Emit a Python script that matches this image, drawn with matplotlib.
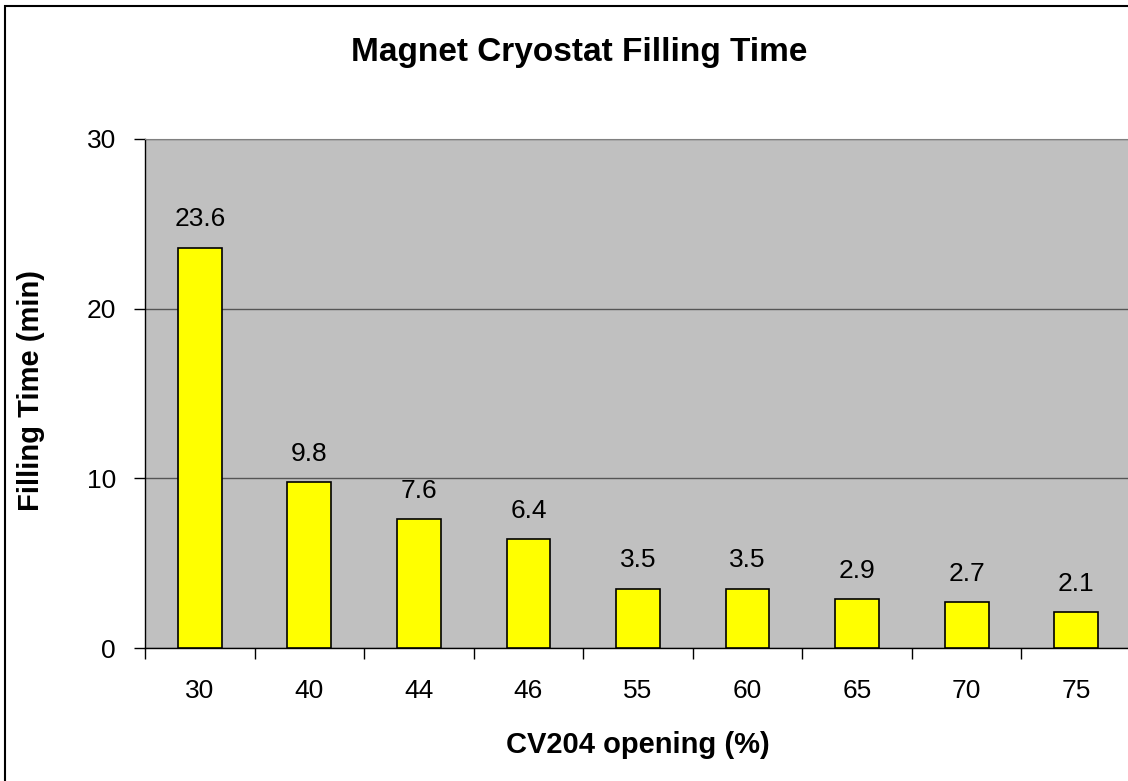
import matplotlib
matplotlib.use("Agg")
import matplotlib.pyplot as plt
from matplotlib.patches import Rectangle

categories = ["30", "40", "44", "46", "55", "60", "65", "70", "75"]
values = [23.6, 9.8, 7.6, 6.4, 3.5, 3.5, 2.9, 2.7, 2.1]
yticks = [0, 10, 20, 30]

plt.rcParams['font.family'] = ['Liberation Sans', 'DejaVu Sans']

W, H = 1128, 781
fig = plt.figure(figsize=(W / 100, H / 100), dpi=100)
fig.patch.set_facecolor('white')
# outer chart border (clipped at right/bottom like the reference)
fig.add_artist(Rectangle((5 / W, -0.1), 1.2, 1 - 6 / H + 0.1, transform=fig.transFigure,
                         fill=False, edgecolor='black', linewidth=1.5))

left, right, top, bottom = 145, 1131, 139, 648
ax = fig.add_axes([left / W, 1 - bottom / H, (right - left) / W, (bottom - top) / H])
ax.set_facecolor('#c0c0c0')

x = list(range(len(categories)))
ax.bar(x, values, width=0.4, color='#ffff00', edgecolor='black', linewidth=1.2, zorder=3)
for xi, v in zip(x, values):
    ax.text(xi, v + 0.95, f"{v:.1f}", ha='center', va='bottom', fontsize=19, zorder=4)

ax.set_xlim(-0.5, len(categories) - 0.5)
ax.set_ylim(0, 30)
ax.set_yticks(yticks)
ax.set_yticklabels([str(t) for t in yticks], fontsize=19)
ax.yaxis.grid(True, color='#555555', linewidth=1.0, zorder=0)
ax.set_axisbelow(True)

ax.set_xticks(x)
ax.set_xticklabels(categories, fontsize=19)
ax.tick_params(axis='x', which='major', length=0, pad=22)
ax.set_xticks([i - 0.5 for i in range(len(categories) + 1)], minor=True)
ax.tick_params(axis='x', which='minor', length=8, width=1, direction='out')
ax.tick_params(axis='y', length=8, width=1, direction='out', pad=13)

for s in ['top', 'right']:
    ax.spines[s].set_color('#808080')
ax.spines['left'].set_color('black')
ax.spines['bottom'].set_color('black')
ax.spines['left'].set_linewidth(1)
ax.spines['bottom'].set_linewidth(1)

fig.text(638 / W, 1 - 745 / H, "CV204 opening (%)", ha='center', va='center',
         fontsize=21, fontweight='bold')
fig.text(31 / W, 1 - 390 / H, "Filling Time (min)", ha='center', va='center',
         fontsize=21, fontweight='bold', rotation=90)

fig.text(579 / W, 1 - 53 / H, "Magnet Cryostat Filling Time", ha='center', va='center',
         fontsize=24, fontweight='bold')

fig.savefig("out.png", dpi=100)
